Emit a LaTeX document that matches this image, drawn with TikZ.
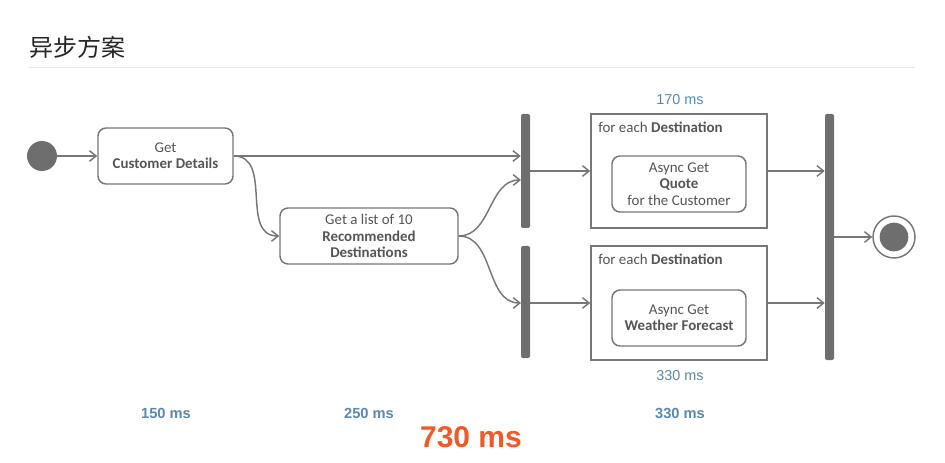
\documentclass[tikz,border=0pt]{standalone}
\usepackage{fontspec}
\setmainfont{Carlito}
\newfontfamily\arialfont{Liberation Sans}
\newfontfamily\cjk{Noto Sans CJK SC}
\usetikzlibrary{arrows.meta}
\definecolor{linegray}{HTML}{777777}
\definecolor{bargray}{HTML}{6E6E6E}
\definecolor{txtgray}{HTML}{555555}
\definecolor{msblue}{HTML}{5B87AB}
\definecolor{msorange}{HTML}{F05A28}
\definecolor{rulegray}{HTML}{E6E6EC}

\tikzset{
  act/.style={draw=linegray,line width=1.1pt,rounded corners=6pt,fill=white,
    text=txtgray,align=center,font=\fontsize{11.2}{12.2}\selectfont},
  loopbox/.style={draw=linegray,line width=1.1pt,fill=white,
    minimum width=132pt,minimum height=85.5pt},
  bar/.style={fill=bargray,rounded corners=1.5pt,minimum width=6.75pt,inner sep=0pt},
  flow/.style={draw=linegray,line width=1.1pt,-{Straight Barb[length=5pt,width=8pt,line width=1.1pt]}},
  ms/.style={text=msblue,font=\arialfont\fontsize{10.8}{12}\selectfont},
  msb/.style={text=msblue,font=\arialfont\bfseries\fontsize{11}{12}\selectfont}
}

\begin{document}
\begin{tikzpicture}
  [x=0.75pt,y=-0.75pt]
  \useasboundingbox (0,0) rectangle (945,463);

  % title
  \node[anchor=west,inner sep=0pt,text=black!85,font=\cjk\fontsize{18}{20}\selectfont] (title) at (29,47) {异步方案};
  \draw[rulegray,line width=0.75pt] (28,68) -- (915,68);

  % start and end
  \node[circle,fill=bargray,minimum size=22.5pt,inner sep=0pt] (start) at (42,156) {};
  \node[circle,draw=linegray,line width=1.1pt,fill=white,minimum size=31.5pt,inner sep=0pt] (end) at (894,237) {};
  \node[circle,fill=bargray,minimum size=21.5pt,inner sep=0pt] (endin) at (894,237) {};

  % actions
  \node[act,minimum width=101.25pt,minimum height=42pt] (cust) at (165.5,156) {Get\\\textbf{Customer Details}};
  \node[act,minimum width=133.5pt,minimum height=42pt] (list) at (369,236) {Get a list of 10\\\textbf{Recommended}\\\textbf{Destinations}};

  % fork and join bars
  \node[bar,minimum height=85.5pt] (bar1) at (525.5,171) {};
  \node[bar,minimum height=84pt] (bar2) at (525.5,302) {};
  \node[bar,minimum height=184.5pt] (bar3) at (829.5,237) {};
  \coordinate (in1) at (521,180);
  \coordinate (in2) at (521,303);

  % loops
  \node[loopbox] (loopq) at (679,171) {};
  \node[loopbox] (loopw) at (679,303) {};
  \node[anchor=west,inner sep=0pt,text=txtgray,font=\fontsize{11.2}{12}\selectfont] (fq) at (598,127) {for each \textbf{Destination}};
  \node[anchor=west,inner sep=0pt,text=txtgray,font=\fontsize{11.2}{12}\selectfont] (fw) at (598,259) {for each \textbf{Destination}};
  \node[act,minimum width=100.5pt,minimum height=42pt] (quote) at (679,184) {Async Get\\\textbf{Quote}\\for the Customer};
  \node[act,minimum width=100.5pt,minimum height=42pt] (weather) at (679,318) {Async Get\\\textbf{Weather Forecast}};

  % connectors
  \draw[flow] (start) -- (cust);
  \draw[flow] (cust.east) -- (cust.east -| bar1.west);
  \draw[flow] (cust.east) to[out=0,in=180,looseness=1.1] (list.west);
  \draw[flow] (list.east) to[out=0,in=180] (in1);
  \draw[flow] (list.east) to[out=0,in=180] (in2);
  \draw[flow] (bar1.east |- loopq.west) -- (loopq.west);
  \draw[flow] (bar2.east |- loopw.west) -- (loopw.west);
  \foreach \from in {loopq,loopw}
    \draw[flow] (\from.east) -- (\from.east -| bar3.west);
  \draw[flow] (bar3.east |- end.west) -- (end.west);

  % timings
  \node[ms] (tq) at (680,100) {170 ms};
  \node[ms] (tw) at (680,376) {330 ms};
  \node[msb] (t1) at (166,413) {150 ms};
  \node[msb] (t2) at (369,413) {250 ms};
  \node[msb] (t3) at (680,413) {330 ms};
  \node[text=msorange,font=\arialfont\bfseries\fontsize{22.5}{24}\selectfont] (total) at (471,437) {730 ms};

\end{tikzpicture}
\end{document}
